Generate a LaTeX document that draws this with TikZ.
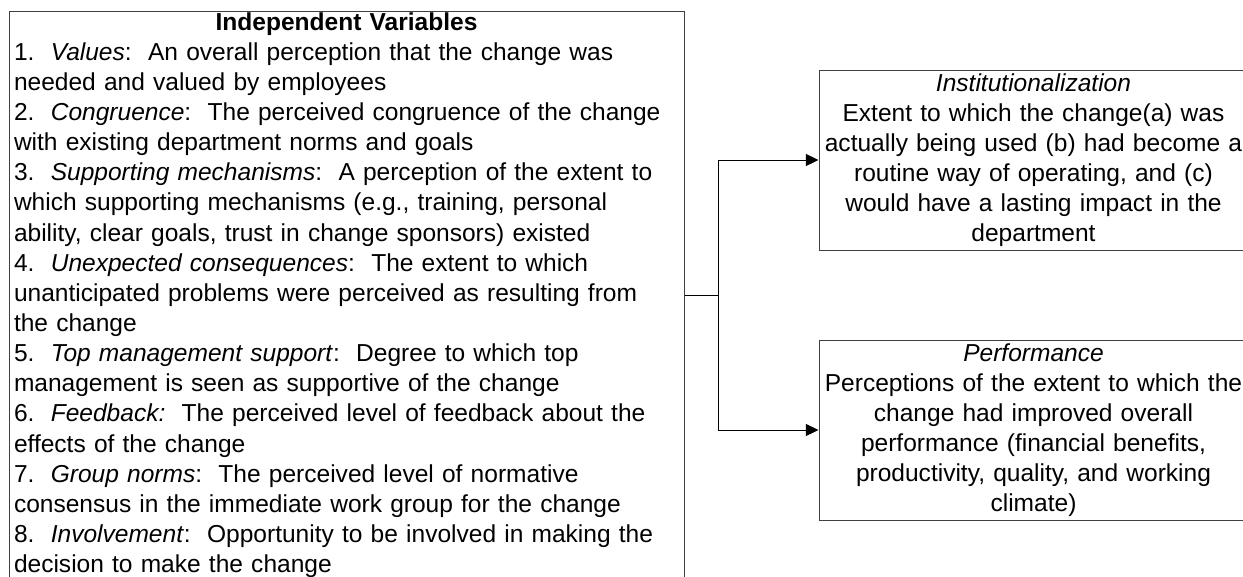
\documentclass[tikz,border=0pt]{standalone}
\usepackage{fontspec}
\setmainfont{Liberation Sans}
\usetikzlibrary{arrows.meta}
\tikzset{
  ivbox/.style={draw=black!75, line width=0.75pt, minimum width=506.25pt, minimum height=426pt,
    text width=498.75pt, inner xsep=3.75pt, inner ysep=0pt, align=left,
    font={\fontsize{18.4}{22.6}\selectfont\lineskiplimit=-100pt}},
  outbox/.style={draw=black!75, line width=0.75pt, minimum width=321.75pt, minimum height=135pt,
    text width=318pt, inner xsep=1.8pt, inner ysep=0pt, align=center,
    font={\fontsize{18.4}{22.5}\selectfont\lineskiplimit=-100pt}},
  conn/.style={line width=0.75pt, black},
  arr/.style={conn, -{Triangle[length=9.5pt,width=9pt]}}
}
\begin{document}
\begin{tikzpicture}[x=0.75pt,y=-0.75pt]
\useasboundingbox (0,0) rectangle (1243,576);
\node[ivbox] (iv) at (346.5,295) {%
\hfill\textbf{Independent Variables}\hfill\null\\
1.~~\textit{Values}:~~An overall perception that the change was\\
needed and valued by employees\\
2.~~\textit{Congruence}:~~The perceived congruence of the change\\
with existing department norms and goals\\
3.~~\textit{Supporting mechanisms}:~~A perception of the extent to\\
which supporting mechanisms (e.g., training, personal\\
ability, clear goals, trust in change sponsors) existed\\
4.~~\textit{Unexpected consequences}:~~The extent to which\\
unanticipated problems were perceived as resulting from\\
the change\\
5.~~\textit{Top management support}:~~Degree to which top\\
management is seen as supportive of the change\\
6.~~\textit{Feedback:}~~The perceived level of feedback about the\\
effects of the change\\
7.~~\textit{Group norms}:~~The perceived level of normative\\
consensus in the immediate work group for the change\\
8.~~\textit{Involvement}:~~Opportunity to be involved in making the\\
decision to make the change};
\node[outbox] (inst) at (1033.5,160) {%
\textit{Institutionalization}\\
Extent to which the change(a) was\\
actually being used (b) had become a\\
routine way of operating, and (c)\\
would have a lasting impact in the\\
department};
\node[outbox] (perf) at (1033.5,430) {%
\textit{Performance}\\
Perceptions of the extent to which the\\
change had improved overall\\
performance (financial benefits,\\
productivity, quality, and working\\
climate)};
\coordinate (split) at (718,295);
\draw[conn] (iv.east) -- (split);
\draw[arr] (split) |- (inst.west);
\draw[arr] (split) |- (perf.west);
\end{tikzpicture}
\end{document}
